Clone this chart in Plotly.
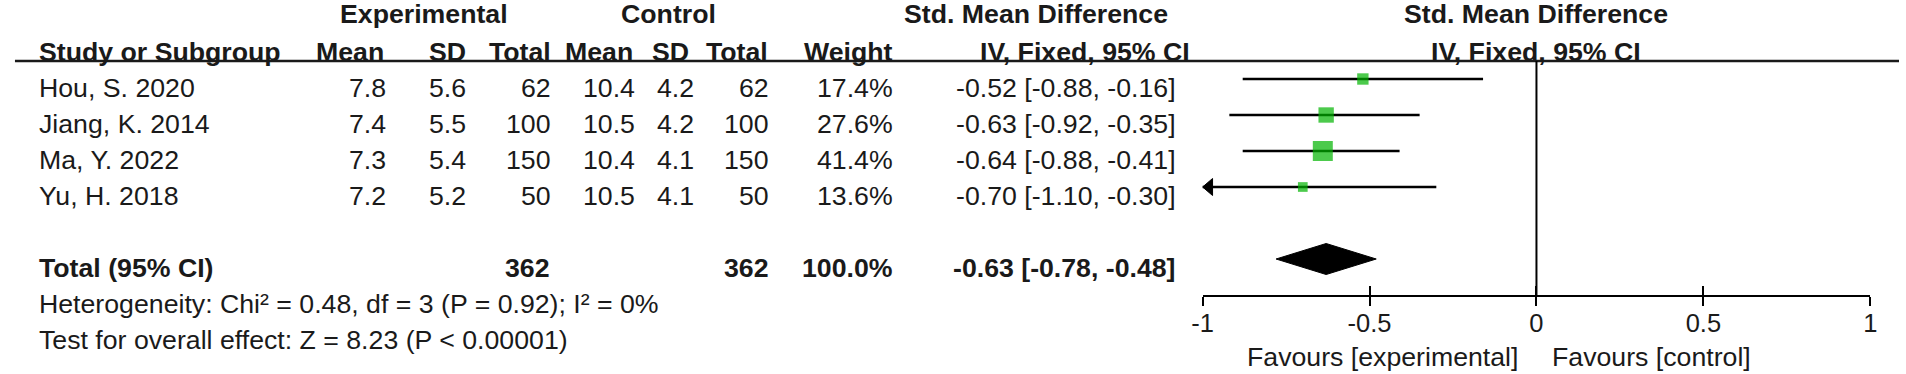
import plotly.graph_objects as go

# ---------------- data ----------------
studies = ["Hou, S. 2020", "Jiang, K. 2014", "Ma, Y. 2022", "Yu, H. 2018"]
exp_mean = [7.8, 7.4, 7.3, 7.2]
exp_sd = [5.6, 5.5, 5.4, 5.2]
exp_n = [62, 100, 150, 50]
ctl_mean = [10.4, 10.5, 10.4, 10.5]
ctl_sd = [4.2, 4.2, 4.1, 4.1]
ctl_n = [62, 100, 150, 50]
weight = [17.4, 27.6, 41.4, 13.6]
smd = [-0.52, -0.63, -0.64, -0.70]
ci_lo = [-0.88, -0.92, -0.88, -1.10]
ci_hi = [-0.16, -0.35, -0.41, -0.30]

total_exp_n = 362
total_ctl_n = 362
total_weight = 100.0
total_smd = -0.63
total_lo = -0.78
total_hi = -0.48

heterogeneity = "Heterogeneity: Chi² = 0.48, df = 3 (P = 0.92); I² = 0%"
overall = "Test for overall effect: Z = 8.23 (P < 0.00001)"

tick_vals = [-1, -0.5, 0, 0.5, 1]
tick_text = ["-1", "-0.5", "0", "0.5", "1"]

# ---------------- layout geometry (pixels) ----------------
W, H = 1906, 374
FONT = "Liberation Sans, Arial, sans-serif"
FS = 26.7
TXT = "#1a1a1a"
GREEN = "#00b300"

AX_L, AX_R = 1203, 1877        # pixel of first / last tick
ROW0, ROWH = 79, 36            # first row marker line, row pitch
TEXT_DY = 9                     # text centre sits below marker line
AXIS_PX = 295

n = len(studies)
total_row = n + 1
axis_row = (AXIS_PX - ROW0) / ROWH
x_min, x_max = tick_vals[0], tick_vals[-1]


def px(x):
    return x / W


def row_px(r):
    return ROW0 + r * ROWH + TEXT_DY


def py(ypix):
    return 1 - ypix / H


fig = go.Figure()

# CI lines (clipped to the axis range by the plot area)
cx, cy = [], []
for i in range(n):
    cx += [ci_lo[i], ci_hi[i], None]
    cy += [i, i, None]
fig.add_trace(go.Scatter(x=cx, y=cy, mode="lines",
                         line=dict(color="black", width=2.5),
                         hoverinfo="skip", showlegend=False))

# arrow for CIs that go beyond the axis range
ARW_W = 10 / (AX_R - AX_L) * (x_max - x_min)
ARW_H = 8.5 / ROWH
for i in range(n):
    if ci_lo[i] < x_min:
        fig.add_trace(go.Scatter(
            x=[x_min, x_min + ARW_W, x_min + ARW_W, x_min],
            y=[i, i - ARW_H, i + ARW_H, i],
            mode="lines", fill="toself", fillcolor="black",
            line=dict(color="black", width=1),
            hoverinfo="skip", showlegend=False))

# weight squares
wmax = max(weight)
sizes = [20 * (w / wmax) ** 0.65 for w in weight]
fig.add_trace(go.Scatter(x=smd, y=list(range(n)), mode="markers",
                         marker=dict(symbol="square", color=GREEN, size=sizes,
                                     line=dict(width=0)),
                         hoverinfo="skip", showlegend=False))

# pooled diamond
DH = 15.5 / ROWH
fig.add_trace(go.Scatter(
    x=[total_lo, total_smd, total_hi, total_smd, total_lo],
    y=[total_row, total_row - DH, total_row, total_row + DH, total_row],
    mode="lines", fill="toself", fillcolor="black",
    line=dict(color="black", width=1),
    hoverinfo="skip", showlegend=False))

# ---------------- text table ----------------
ann = []


def txt(text, xpix, ypix, anchor="left", bold=False, size=FS, xref="paper", x=None, xshift=0):
    ann.append(dict(
        text=("<b>%s</b>" % text) if bold else text,
        x=px(xpix) if x is None else x, xref=xref,
        y=py(ypix), yref="paper",
        xanchor=anchor, yanchor="middle", showarrow=False, xshift=xshift,
        font=dict(family=FONT, size=size, color=TXT)))


H1 = row_px(-2) - 2
H2 = row_px(-1)
txt("Experimental", 417, H1, "center", True)
txt("Control", 664, H1, "center", True)
txt("Std. Mean Difference", 1035, H1, "center", True)
txt("Std. Mean Difference", 0, H1, "center", True, xref="x", x=0)

txt("Study or Subgroup", 26, H2, "left", True)
txt("Mean", 379, H2, "right", True)
txt("SD", 461, H2, "right", True)
txt("Total", 547, H2, "right", True)
txt("Mean", 630, H2, "right", True)
txt("SD", 686, H2, "right", True)
txt("Total", 766, H2, "right", True)
txt("Weight", 892, H2, "right", True)
txt("IV, Fixed, 95% CI", 1192, H2, "right", True)
txt("IV, Fixed, 95% CI", 0, H2, "center", True, xref="x", x=0)

for i in range(n):
    yy = row_px(i)
    txt(studies[i], 26, yy, "left")
    txt("%.1f" % exp_mean[i], 381, yy, "right")
    txt("%.1f" % exp_sd[i], 461, yy, "right")
    txt("%d" % exp_n[i], 547, yy, "right")
    txt("%.1f" % ctl_mean[i], 632, yy, "right")
    txt("%.1f" % ctl_sd[i], 692, yy, "right")
    txt("%d" % ctl_n[i], 767, yy, "right")
    txt("%.1f%%" % weight[i], 892, yy, "right")
    txt("%.2f [%.2f, %.2f]" % (smd[i], ci_lo[i], ci_hi[i]), 1178, yy, "right")

yy = row_px(total_row)
txt("Total (95% CI)", 26, yy, "left", True)
txt("%d" % total_exp_n, 546, yy, "right", True)
txt("%d" % total_ctl_n, 767, yy, "right", True)
txt("%.1f%%" % total_weight, 892, yy, "right", True)
txt("%.2f [%.2f, %.2f]" % (total_smd, total_lo, total_hi), 1178, yy, "right", True)

txt(heterogeneity, 26, row_px(total_row + 1), "left")
txt(overall, 26, row_px(total_row + 2), "left")

FAV_Y = 357
txt("Favours [experimental]", 0, FAV_Y, "right", xref="x", x=0, xshift=-16)
txt("Favours [control]", 0, FAV_Y, "left", xref="x", x=0, xshift=14)

# ---------------- rules ----------------
shapes = [
    dict(type="line", xref="paper", yref="y", x0=px(4), x1=1, y0=-0.5, y1=-0.5,
         line=dict(color=TXT, width=2.5)),
    dict(type="line", xref="x", yref="y", x0=0, x1=0, y0=-0.5, y1=axis_row,
         line=dict(color="black", width=2)),
]

xdom = [px(AX_L), px(AX_R)]
fig.update_layout(
    width=W, height=H,
    margin=dict(l=0, r=0, t=0, b=0),
    paper_bgcolor="white", plot_bgcolor="rgba(0,0,0,0)",
    showlegend=False,
    annotations=ann, shapes=shapes,
    xaxis=dict(domain=xdom, range=[x_min, x_max], anchor="y",
               showgrid=False, zeroline=False, showline=True,
               linecolor="black", linewidth=2,
               tickmode="array", tickvals=tick_vals, ticktext=tick_text,
               ticks="outside", ticklen=9, tickwidth=2, tickcolor="black",
               tickfont=dict(family=FONT, size=25.5, color=TXT),
               ticklabelstandoff=-5, fixedrange=True),
    xaxis2=dict(domain=xdom, range=[x_min, x_max], anchor="y", overlaying="x",
                showgrid=False, zeroline=False, showline=False,
                tickmode="array", tickvals=tick_vals, showticklabels=False,
                ticks="inside", ticklen=9, tickwidth=2, tickcolor="black",
                fixedrange=True),
    yaxis=dict(domain=[1 - AXIS_PX / H, 1], range=[axis_row, -ROW0 / ROWH],
               visible=False, fixedrange=True),
)
# invisible trace to activate the overlaying axis
fig.add_trace(go.Scatter(x=[x_min], y=[0], xaxis="x2", mode="markers",
                         marker=dict(opacity=0), hoverinfo="skip", showlegend=False))

fig.write_html("out.html", config={"displayModeBar": False, "staticPlot": True},
               post_script="document.body.style.margin='0';document.body.style.overflow='hidden';")
